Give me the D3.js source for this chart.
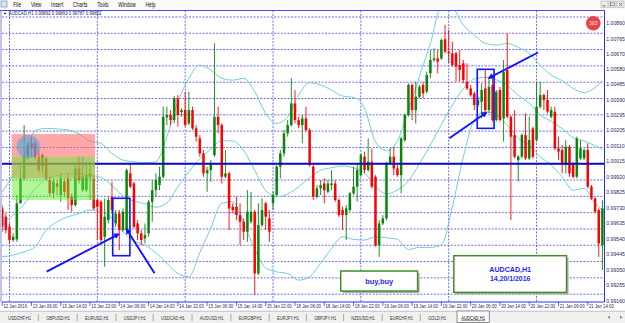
<!DOCTYPE html>
<html><head><meta charset="utf-8">
<script src="https://cdn.jsdelivr.net/npm/d3@7/dist/d3.min.js"></script>
<style>
html,body{margin:0;padding:0;background:#fff;overflow:hidden;}
svg{display:block;font-family:"Liberation Sans",Arial,sans-serif;}
</style></head><body>
<svg id="c" width="625" height="323"></svg>
<script>
// ---------------- DATA (AUDCAD, H1) ----------------
const opens = [.99726,.99675,.99613,.99532,.99536,.99757,.99910,1.00043,1.00094,1.00125,
1.00043,.99982,1.00033,.99900,.99818,.99879,.99808,.99890,.99910,.99798,
.99746,.99971,.99838,.99838,.99920,.99910,.99777,.99767,.99552,.99654,
.99798,.99634,.99695,.99593,.99593,.99941,.99879,.99634,.99573,.99542,
.99573,.99767,.99838,.99869,.99920,1.00284,1.00299,1.00268,1.00401,1.00317,
1.00329,1.00247,1.00329,1.00217,1.00155,1.00063,.99941,.99961,1.00053,1.00288,
1.00237,.99920,.99941,.99736,.99736,.99685,.99644,.99583,.99644,.99706,
.99327,.99624,.99757,.99665,.99757,.99808,.99982,1.00063,1.00186,1.00237,
1.00370,1.00268,1.00237,1.00278,1.00207,.99982,.99798,.99849,.99879,.99828,
.99869,.99879,.99777,.99716,.99685,.99716,.99818,.99859,.99930,1.00043,
.99961,1.00012,.99920,.99501,.99634,.99665,1.00002,1.00043,.99971,.99930,
1.00145,1.00299,1.00483,1.00329,1.00411,1.00483,1.00442,1.00554,1.00636,1.00646,
1.00646,1.00763,1.00687,1.00677,1.00677,1.00605,1.00616,1.00503,1.00462,1.00431,
1.00360,1.00380,1.00462,1.00329,1.00483,1.00268,1.00452,1.00278,1.00575,1.00288,
1.00176,1.00022,1.00043,1.00176,1.00033,1.00217,1.00145,1.00350,1.00421,1.00391,
1.00288,1.00319,1.00094,1.00084,.99992,1.00104,1.00002,.99920,1.00033,1.00033,
1.00084,.99859,.99787,.99716,.99501];
const highs = [.99746,.99695,.99634,.99573,.99808,.99982,1.00237,1.00135,1.00166,1.00145,
1.00084,1.00063,1.00043,.99920,.99910,.99900,.99941,.99910,.99941,.99818,
.99992,1.00043,1.00043,1.00012,1.00012,.99930,.99787,.99777,.99787,.99798,
.99890,.99716,.99716,.99726,.99971,1.00002,.99890,.99654,.99593,.99634,
.99777,.99900,.99941,.99982,1.00350,1.00350,1.00329,1.00415,1.00421,1.00339,
1.00442,1.00442,1.00350,1.00237,1.00176,1.00084,.99982,1.00022,1.00738,1.00350,
1.00247,1.00084,.99951,.99757,.99798,.99757,.99665,.99838,.99828,.99716,
.99757,.99787,.99767,.99716,.99828,.99992,1.00084,1.00207,1.00268,1.00524,
1.00452,1.00288,1.00299,1.00350,1.00217,.99992,.99869,.99900,.99910,.99900,
.99961,.99900,.99787,.99736,.99746,.99828,.99982,1.00002,1.00063,1.00074,
1.00155,1.00094,.99930,.99654,.99685,1.00012,1.00094,1.00104,.99992,1.00166,
1.00309,1.00493,1.00493,1.00503,1.00483,1.00503,1.00564,1.00697,1.00708,1.00697,
1.00769,1.00851,1.00820,1.00748,1.00687,1.00697,1.00636,1.00616,1.00483,1.00442,
1.00411,1.00493,1.00575,1.00524,1.00544,1.00452,1.00472,1.00636,1.00800,1.00299,
1.00329,1.00053,1.00186,1.00309,1.00288,1.00227,1.00503,1.00503,1.00431,1.00452,
1.00350,1.00350,1.00166,1.00115,1.00145,1.00115,1.00012,1.00166,1.00145,1.00094,
1.00125,.99869,.99798,.99726,.99777];
const lows = [.99583,.99573,.99511,.99521,.99521,.99757,.99900,1.00022,1.00043,1.00022,
.99941,.99941,.99900,.99798,.99787,.99808,.99767,.99798,.99716,.99706,
.99736,.99879,.99828,.99828,.99777,.99716,.99532,.99511,.99368,.99634,
.99695,.99613,.99470,.99583,.99583,.99849,.99603,.99532,.99501,.99511,
.99552,.99644,.99798,.99838,.99910,1.00237,1.00237,1.00247,1.00227,1.00288,
1.00227,1.00237,1.00207,1.00135,1.00043,.99920,.99828,.99890,1.00043,1.00186,
.99879,.99910,.99593,.99695,.99654,.99501,.99532,.99521,.99634,.99194,
.99317,.99613,.99593,.99521,.99716,.99798,.99910,1.00043,1.00166,1.00227,
1.00247,1.00217,1.00125,1.00196,.99982,.99777,.99787,.99808,.99757,.99818,
.99838,.99767,.99675,.99593,.99532,.99706,.99808,.99767,.99920,.99941,
.99951,.99849,.99491,.99429,.99624,.99654,.99992,.99930,.99920,.99818,
1.00135,1.00288,1.00268,1.00247,1.00401,1.00401,1.00431,1.00524,1.00626,1.00554,
1.00636,1.00677,1.00616,1.00595,1.00503,1.00503,1.00493,1.00452,1.00411,1.00329,
1.00350,1.00278,1.00319,1.00309,1.00258,1.00258,1.00258,1.00135,1.00278,.99654,
1.00033,.99890,1.00033,1.00022,1.00022,1.00033,1.00135,1.00339,1.00329,1.00309,
1.00278,1.00084,1.00022,.99941,.99941,.99920,.99910,.99910,1.00022,1.00022,
.99849,.99777,.99695,.99429,.99348];
const closes = [.99613,.99593,.99532,.99552,.99757,.99910,1.00043,1.00115,1.00125,1.00043,
.99961,1.00053,.99910,.99818,.99890,.99859,.99910,.99828,.99787,.99746,
.99971,.99900,.99920,.99930,.99941,.99726,.99736,.99532,.99675,.99777,
.99716,.99695,.99593,.99706,.99961,.99859,.99613,.99573,.99532,.99562,
.99767,.99838,.99900,.99920,1.00288,1.00299,1.00268,1.00401,1.00299,1.00329,
1.00237,1.00329,1.00217,1.00166,1.00063,.99941,.99961,1.00002,1.00288,1.00237,
.99920,.99941,.99726,.99716,.99685,.99644,.99583,.99706,.99706,.99327,
.99624,.99716,.99675,.99583,.99808,.99982,1.00063,1.00186,1.00237,1.00370,
1.00268,1.00237,1.00278,1.00207,.99992,.99798,.99849,.99869,.99838,.99879,
.99879,.99777,.99685,.99685,.99726,.99818,.99859,.99961,1.00053,.99961,
1.00012,.99859,.99501,.99634,.99665,1.00002,1.00043,.99971,.99930,1.00155,
1.00299,1.00483,1.00329,1.00411,1.00472,1.00431,1.00544,1.00636,1.00646,1.00626,
1.00759,1.00687,1.00677,1.00605,1.00595,1.00575,1.00513,1.00462,1.00421,1.00360,
1.00391,1.00452,1.00329,1.00472,1.00268,1.00442,1.00268,1.00564,1.00288,1.00166,
1.00043,1.00043,1.00176,1.00033,1.00145,1.00043,1.00350,1.00421,1.00391,1.00319,
1.00329,1.00094,1.00074,.99992,1.00104,.99941,.99920,1.00155,1.00094,1.00084,
.99859,.99787,.99706,.99511,.99726];

// Bollinger bands, read at every 3rd bar
const bandIdx = [0,3,6,9,12,15,18,21,24,27,30,33,36,39,42,45,48,51,54,57,60,63,66,69,72,75,78,81,84,87,90,93,96,99,102,105,108,111,114,117,120,123,126,129,132,135,138,141,144,147,150,153,156,159,162,164];
const bandUpper = [.99828,.99930,1.00043,1.00202,1.00217,1.00213,1.00207,1.00182,1.00139,1.00125,1.00063,1.00022,1.00012,1.00006,1.00012,1.00166,1.00380,1.00524,1.00605,1.00575,1.00524,1.00513,1.00524,1.00442,1.00309,1.00247,1.00288,1.00421,1.00497,1.00483,1.00452,1.00415,1.00407,1.00339,1.00135,1.00080,1.00141,1.00329,1.00534,1.00738,1.00963,1.00953,1.00851,1.00789,1.00738,1.00728,1.00738,1.00714,1.00677,1.00605,1.00544,1.00509,1.00462,1.00436,1.00468,1.00509];
const bandMiddle = [.99630,.99685,.99753,.99847,.99906,.99928,.99941,.99939,.99928,.99916,.99865,.99804,.99771,.99755,.99733,.99760,.99859,.99951,1.00030,1.00090,1.00141,1.00140,1.00080,.99960,.99835,.99798,.99814,.99859,.99915,.99960,.99975,.99986,.99975,.99945,.99860,.99815,.99840,.99895,1.00000,1.00115,1.00240,1.00360,1.00460,1.00520,1.00530,1.00515,1.00480,1.00420,1.00370,1.00300,1.00260,1.00215,1.00160,1.00140,1.00110,1.00090];
const bandLower = [.99429,.99440,.99460,.99491,.99593,.99644,.99675,.99695,.99716,.99706,.99665,.99583,.99528,.99501,.99454,.99389,.99327,.99307,.99455,.99605,.99758,.99767,.99636,.99478,.99361,.99337,.99327,.99286,.99307,.99389,.99481,.99552,.99536,.99532,.99552,.99546,.99536,.99474,.99487,.99487,.99501,.99736,1.00043,1.00268,1.00319,1.00299,1.00237,1.00155,1.00115,1.00043,.99992,.99920,.99838,.99849,.99757,.99716];

const timeLabels = ["12 Jan 2016","13 Jan 06:00","13 Jan 14:00","13 Jan 22:00","14 Jan 06:00","14 Jan 14:00","14 Jan 22:00","15 Jan 06:00","15 Jan 14:00","15 Jan 22:00","18 Jan 06:00","18 Jan 14:00","18 Jan 22:00","19 Jan 06:00","19 Jan 14:00","19 Jan 22:00","20 Jan 06:00","20 Jan 14:00","20 Jan 22:00","21 Jan 06:00","21 Jan 14:00"];
const timeLabelBars = [0,8,16,24,32,40,48,56,64,72,80,88,96,104,112,120,128,136,144,152,160];
const dayStartBars = [2,26,50,74,98,122,146];
const priceLabels = [1.00860,1.00765,1.00670,1.00580,1.00485,1.00390,1.00295,1.00205,1.00110,1.00015,0.99920,0.99825,0.99730,0.99635,0.99540,0.99445,0.99350,0.99255,0.99160];
const gridPrices = [1.009,1.008,1.007,1.006,1.005,1.004,1.003,1.002,1.001,1.000,0.999,0.998,0.997,0.996,0.995,0.994,0.993,0.992];
const hLinePrice = 1.00000;

// annotations, anchored in bar index / price
const zones = [
  {k0:2.6,k1:25.36,p0:1.00182,p1:0.99910,fill:"#ff6060",op:0.55},
  {k0:2.6,k1:25.36,p0:1.00043,p1:0.99777,fill:"#66ee33",op:0.5}
];
const ellipseMark = {k:7.14,p:1.00104};
const boxes = [{k0:30.2,k1:34.9,p0:0.99788,p1:0.99436},{k0:129.8,k1:134.4,p0:1.00579,p1:1.00217}];
const arrows = [
  {k0:12.14,p0:0.99338,k1:31.73,p1:0.99567},
  {k0:41.64,p0:0.99328,k1:34.02,p1:0.99596},
  {k0:122.2,p0:1.00156,k1:132.2,p1:1.00313},
  {k0:146.4,p0:1.00682,k1:133.06,p1:1.00527}
];
const notes = [
  {k0:92.5,k1:113.5,p0:0.99342,p1:0.99219,lines:["buy,buy"],widths:[28]},
  {k0:123.4,k1:154.2,p0:0.99436,p1:0.99211,lines:["AUDCAD,H1","14,20/1/2016"],widths:[41.7,40.3]}
];
const menuItems = ["File","View","Insert","Charts","Tools","Window","Help"];
const tabs = ["USDCHF,H1","GBPUSD,H1","EURUSD,H1","USDJPY,H1","USDCAD,H1","AUDUSD,H1","EURGBP,H1","EURJPY,H1","GBPJPY,H1","NZDUSD,H1","EURCHF,H1","GOLD,H1","AUDCAD,H1"];
const activeTab = "AUDCAD,H1";
const titleText = "AUDCAD,H1  0.99892 0.99893 0.99787 0.99802";

// ---------------- DRAW ----------------
const W = 625, H = 323;
const svg = d3.select("#c");
const F = {l:2, r:604.5, t:10.5, b:302};
const x = d3.scaleLinear().domain([0,164]).range([2.18, 602.42]);
const y = d3.scaleLinear().domain([0.9916, 1.0086]).range([300.7, 23.5]);
const GREEN = "#0a850a", RED = "#ff0000", BLUE = "#1414ff";

svg.append("rect").attr("width",W).attr("height",H).attr("fill","#fff");
const defs = svg.append("defs");
defs.append("clipPath").attr("id","plot").append("rect")
  .attr("x",F.l).attr("y",F.t).attr("width",F.r-F.l).attr("height",F.b-F.t);
defs.append("marker").attr("id","ah").attr("viewBox","0 0 10 10").attr("refX",7).attr("refY",5)
  .attr("markerWidth",3.2).attr("markerHeight",3.2).attr("orient","auto")
  .append("path").attr("d","M0,0L10,5L0,10z").attr("fill",BLUE);

// menu bar
const menu = svg.append("g");
menu.append("rect").attr("x",0).attr("y",0).attr("width",W).attr("height",9.5).attr("fill","#fafafa");
menu.append("rect").attr("x",1).attr("y",1).attr("width",6).attr("height",6).attr("fill","#dde6f5").attr("stroke","#6d8fc9").attr("stroke-width",0.7);
let mx = 13.3;
menuItems.forEach(m => {
  const t = menu.append("text").attr("x",0).attr("y",0).attr("font-size",7).attr("fill","#111")
    .attr("transform",`translate(${mx},6.6) scale(0.7,1)`).text(m);
  mx += t.node().getComputedTextLength()*0.7 + 9.7;
});
[601,609,617].forEach(bx => {
  menu.append("rect").attr("x",bx).attr("y",1).attr("width",7).attr("height",6.5).attr("fill","#eeeeee").attr("stroke","#a8a8a8").attr("stroke-width",0.6);
});
menu.append("line").attr("x1",602.5).attr("x2",605.5).attr("y1",5.8).attr("y2",5.8).attr("stroke","#555").attr("stroke-width",0.8);
menu.append("rect").attr("x",610.6).attr("y",2.8).attr("width",3.6).attr("height",3).attr("fill","none").attr("stroke","#555").attr("stroke-width",0.6);
menu.append("path").attr("d","M619,2.8L622.4,6 M622.4,2.8L619,6").attr("stroke","#555").attr("stroke-width",0.7);

// chart frame & grid
const plot = svg.append("g");
plot.append("line").attr("x1",1).attr("x2",1).attr("y1",F.t).attr("y2",F.b).attr("stroke","#9a9ad8").attr("stroke-width",1.2);
plot.append("g").selectAll("line").data(gridPrices).join("line")
  .attr("x1",F.l).attr("x2",F.r).attr("y1",d=>y(d)).attr("y2",d=>y(d))
  .attr("stroke","#5a5af0").attr("stroke-width",0.9).attr("stroke-dasharray","2,1.4")
  .attr("clip-path","url(#plot)");
plot.append("g").selectAll("line").data(dayStartBars).join("line")
  .attr("x1",d=>x(d)).attr("x2",d=>x(d)).attr("y1",F.t).attr("y2",F.b)
  .attr("stroke","#5a5af0").attr("stroke-width",0.9).attr("stroke-dasharray","2,1.4");

const inner = svg.append("g").attr("clip-path","url(#plot)");
// bands
const bandLine = arr => d3.line().x((d,i)=>x(bandIdx[i])).y(d=>y(d)).curve(d3.curveMonotoneX)(arr);
[bandUpper,bandMiddle,bandLower].forEach(b => {
  inner.append("path").attr("d",bandLine(b)).attr("fill","none").attr("stroke","#6fcfcf").attr("stroke-width",1);
});
// candles
const idx = d3.range(opens.length);
const col = i => closes[i] >= opens[i] ? GREEN : RED;
inner.append("g").selectAll("line").data(idx).join("line")
  .attr("x1",i=>x(i)).attr("x2",i=>x(i)).attr("y1",i=>y(highs[i])).attr("y2",i=>y(lows[i]))
  .attr("stroke",col).attr("stroke-width",0.9);
inner.append("g").selectAll("rect").data(idx).join("rect")
  .attr("x",i=>x(i)-1.25).attr("width",2.5)
  .attr("y",i=>y(Math.max(opens[i],closes[i])))
  .attr("height",i=>Math.max(0.8,Math.abs(y(opens[i])-y(closes[i]))))
  .attr("fill",col);
// horizontal line
inner.append("line").attr("x1",F.l).attr("x2",F.r).attr("y1",y(hLinePrice)).attr("y2",y(hLinePrice))
  .attr("stroke","#0a0ac0").attr("stroke-width",2.2);
// zones
inner.append("g").selectAll("rect").data(zones).join("rect")
  .attr("x",d=>x(d.k0)).attr("width",d=>x(d.k1)-x(d.k0))
  .attr("y",d=>y(d.p0)).attr("height",d=>y(d.p1)-y(d.p0))
  .attr("fill",d=>d.fill).attr("opacity",d=>d.op);
inner.append("circle").attr("cx",x(ellipseMark.k)).attr("cy",y(ellipseMark.p)).attr("r",11.7)
  .attr("fill","#3fa6e6").attr("opacity",0.55);
// boxes & arrows
inner.append("g").selectAll("rect").data(boxes).join("rect")
  .attr("x",d=>x(d.k0)).attr("width",d=>x(d.k1)-x(d.k0))
  .attr("y",d=>y(d.p0)).attr("height",d=>y(d.p1)-y(d.p0))
  .attr("fill","none").attr("stroke",BLUE).attr("stroke-width",1.6);
inner.append("g").selectAll("line").data(arrows).join("line")
  .attr("x1",d=>x(d.k0)).attr("y1",d=>y(d.p0)).attr("x2",d=>x(d.k1)).attr("y2",d=>y(d.p1))
  .attr("stroke",BLUE).attr("stroke-width",1.9).attr("marker-end","url(#ah)");
// text notes
notes.forEach(n => {
  const x0 = x(n.k0), x1 = x(n.k1), y0 = y(n.p0), y1 = y(n.p1);
  inner.append("rect").attr("x",x0+2).attr("y",y0+2).attr("width",x1-x0).attr("height",y1-y0).attr("fill","#b0b0b0");
  inner.append("rect").attr("x",x0).attr("y",y0).attr("width",x1-x0).attr("height",y1-y0)
    .attr("fill","#fff").attr("stroke","#3e8e23").attr("stroke-width",1.5);
  const cx = (x0+x1)/2, cy = (y0+y1)/2, lh = 8.7;
  n.lines.forEach((s,i) => {
    inner.append("text").attr("x",cx).attr("y",cy + (i-(n.lines.length-1)/2)*lh).attr("dy","0.35em")
      .attr("text-anchor","middle").attr("font-size",8).attr("font-weight","bold").attr("fill","#1f1fff")
      .attr("textLength",n.widths[i]).attr("lengthAdjust","spacingAndGlyphs").text(s);
  });
});
// 303 badge
svg.append("circle").attr("cx",593.3).attr("cy",23.3).attr("r",7.3).attr("fill","#e64545");
svg.append("text").attr("x",593.3).attr("y",23.3).attr("dy","0.35em").attr("text-anchor","middle")
  .attr("font-size",5).attr("fill","#ffe0e0").text("303");
// title
svg.append("path").attr("d","M3.5,12.8L6.5,12.8L5,14.6z").attr("fill","#223");
svg.append("text").attr("x",8.5).attr("y",15.4).attr("font-size",4.6).attr("fill","#22225a")
  .attr("textLength",93).attr("lengthAdjust","spacingAndGlyphs").text(titleText);

// frame lines
svg.append("line").attr("x1",0).attr("x2",F.r).attr("y1",F.t).attr("y2",F.t).attr("stroke","#4a4af5").attr("stroke-width",1);
svg.append("line").attr("x1",F.r).attr("x2",F.r).attr("y1",F.t).attr("y2",F.b).attr("stroke","#2a2aff").attr("stroke-width",1);
svg.append("line").attr("x1",F.l).attr("x2",F.r).attr("y1",F.b).attr("y2",F.b).attr("stroke","#2a2aff").attr("stroke-width",1);

// price axis labels
svg.append("g").selectAll("text").data(priceLabels).join("text")
  .attr("x",606.2).attr("y",d=>y(d)).attr("dy","0.35em").attr("font-size",5.2).attr("fill","#2b2b55")
  .text(d=>d.toFixed(5));
// time axis
const tg = svg.append("g");
tg.selectAll("line").data(timeLabelBars).join("line")
  .attr("x1",d=>x(d)).attr("x2",d=>x(d)).attr("y1",F.b).attr("y2",F.b+4).attr("stroke","#2a2aff").attr("stroke-width",0.7);
tg.selectAll("text").data(timeLabels).join("text")
  .attr("x",0).attr("y",0).attr("font-size",5).attr("fill","#2b2b55")
  .attr("transform",(d,i)=>`translate(${x(timeLabelBars[i])+1.2},308.3) scale(0.86,1)`)
  .text(d=>d);

// tab bar
const tb = svg.append("g");
tb.append("rect").attr("x",0).attr("y",311).attr("width",W).attr("height",12).attr("fill","#f0f0f0");
tb.append("line").attr("x1",0).attr("x2",W).attr("y1",311.2).attr("y2",311.2).attr("stroke","#a0a0a0").attr("stroke-width",0.6);
let tx = 8;
tabs.forEach((t,i) => {
  const active = t === activeTab;
  const g = tb.append("g");
  const te = g.append("text").attr("font-size",6.2).attr("fill", active ? "#000" : "#333")
    .attr("transform",`translate(${tx},319.6) scale(0.66,1)`).text(t);
  const w = te.node().getComputedTextLength()*0.66;
  if (active) {
    g.insert("rect","text").attr("x",tx-4.3).attr("y",311).attr("width",w+8.6).attr("height",11.6)
      .attr("fill","#fff").attr("stroke","#606060").attr("stroke-width",0.7);
    g.append("line").attr("x1",tx).attr("x2",tx+w).attr("y1",320.6).attr("y2",320.6).attr("stroke","#000").attr("stroke-width",0.4);
  } else if (i < tabs.length-1 && tabs[i+1] !== activeTab) {
    g.append("line").attr("x1",tx+w+7.4).attr("x2",tx+w+7.4).attr("y1",314).attr("y2",321).attr("stroke","#777").attr("stroke-width",0.6);
  }
  tx += w + 15.2;
});
tb.append("path").attr("d","M607.5,317.2L610,315.7L610,318.7z").attr("fill","#777");
tb.append("path").attr("d","M622.5,317.2L620,315.7L620,318.7z").attr("fill","#777");
</script>
</body></html>
